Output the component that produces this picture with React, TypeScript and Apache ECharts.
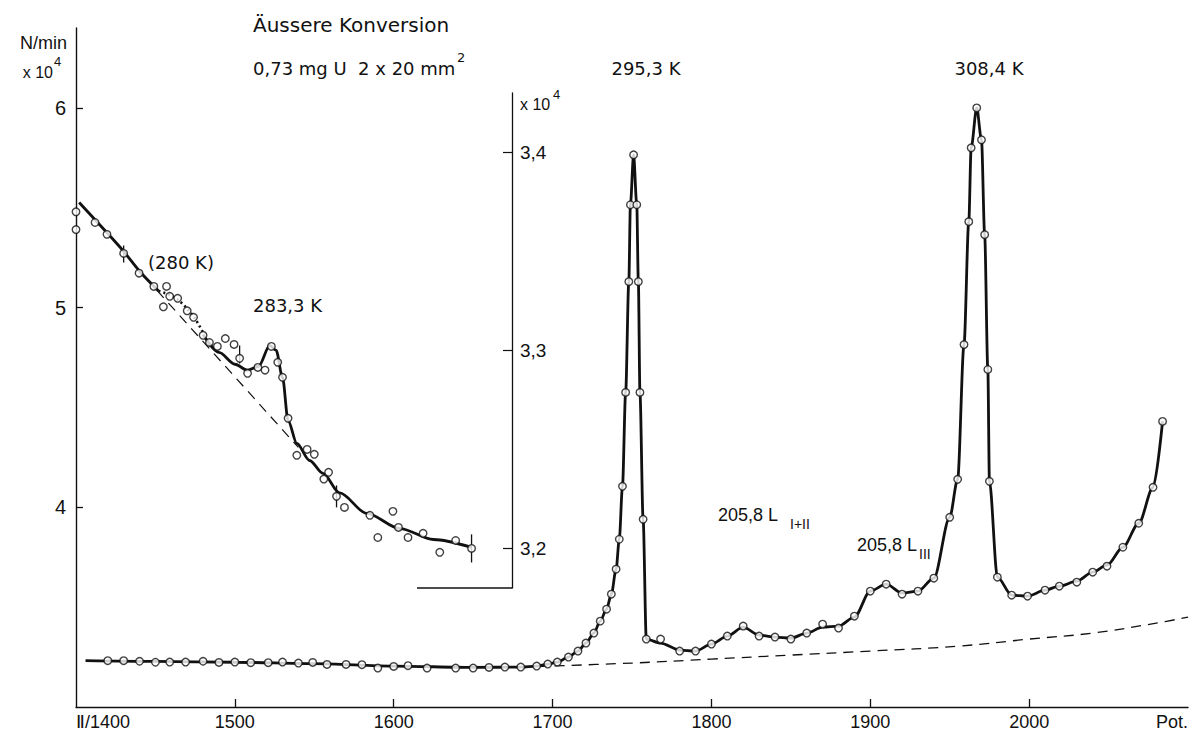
import React, { useEffect, useRef } from "react";
import * as echarts from "echarts";

// ---------- data (x: Pot., y: N/min x 10^4) ----------
// measured points (circles) of the main spectrum
const mainX = [1420, 1430, 1440, 1450, 1459, 1469, 1480, 1490, 1500, 1510, 1521, 1530, 1540, 1549, 1558, 1570, 1580, 1590, 1600, 1609, 1621, 1639, 1650, 1660, 1670, 1680, 1690, 1697, 1703, 1710, 1716, 1721, 1726, 1730, 1734, 1737, 1740, 1742, 1744, 1746, 1748, 1749, 1751, 1753, 1754, 1755, 1757, 1759, 1768, 1780, 1790, 1800, 1810, 1820, 1830, 1840, 1850, 1860, 1870, 1880, 1890, 1900, 1910, 1920, 1930, 1940, 1950, 1955, 1959, 1962, 1963.5, 1967, 1970, 1972, 1974, 1975, 1980, 1989, 1999, 2010, 2019, 2030, 2040, 2049, 2059, 2069, 2078, 2084];
const mainY = [3.232, 3.232, 3.229, 3.224, 3.225, 3.225, 3.229, 3.223, 3.225, 3.222, 3.222, 3.225, 3.22, 3.223, 3.213, 3.213, 3.212, 3.195, 3.203, 3.207, 3.195, 3.195, 3.195, 3.198, 3.2, 3.2, 3.205, 3.215, 3.225, 3.25, 3.28, 3.32, 3.37, 3.43, 3.49, 3.565, 3.69, 3.84, 4.105, 4.575, 5.13, 5.515, 5.765, 5.515, 5.13, 4.575, 3.94, 3.34, 3.34, 3.28, 3.28, 3.315, 3.355, 3.405, 3.355, 3.35, 3.34, 3.37, 3.415, 3.395, 3.455, 3.58, 3.615, 3.565, 3.58, 3.645, 3.95, 4.14, 4.815, 5.43, 5.8, 6.0, 5.84, 5.365, 4.69, 4.13, 3.65, 3.56, 3.555, 3.585, 3.605, 3.625, 3.675, 3.705, 3.8, 3.92, 4.1, 4.43];
// drawn curve of the main spectrum
const fitX = [1406, 1450, 1500, 1550, 1600, 1650, 1680, 1690, 1697, 1703, 1710, 1716, 1721, 1726, 1730, 1734, 1737, 1740, 1742, 1744, 1746, 1748, 1749, 1751, 1753, 1754, 1755, 1757, 1759, 1768, 1780, 1790, 1800, 1810, 1820, 1830, 1840, 1850, 1860, 1870, 1880, 1890, 1900, 1910, 1920, 1930, 1940, 1950, 1955, 1959, 1962, 1963.5, 1967, 1970, 1972, 1974, 1975, 1980, 1989, 1999, 2010, 2019, 2030, 2040, 2049, 2059, 2069, 2078, 2084];
const fitY = [3.232, 3.228, 3.224, 3.217, 3.205, 3.198, 3.2, 3.205, 3.215, 3.225, 3.25, 3.28, 3.32, 3.37, 3.43, 3.49, 3.565, 3.69, 3.84, 4.105, 4.575, 5.13, 5.515, 5.765, 5.515, 5.13, 4.575, 3.94, 3.34, 3.32, 3.285, 3.28, 3.315, 3.355, 3.4, 3.36, 3.35, 3.345, 3.37, 3.4, 3.405, 3.45, 3.58, 3.615, 3.57, 3.58, 3.645, 3.95, 4.14, 4.815, 5.43, 5.8, 6.0, 5.84, 5.365, 4.69, 4.13, 3.65, 3.56, 3.555, 3.585, 3.605, 3.63, 3.675, 3.71, 3.8, 3.92, 4.1, 4.43];

const baseX = [1680, 1750, 1800, 1850, 1900, 1956, 2000, 2040, 2080, 2100];
const baseY = [3.2, 3.22, 3.24, 3.26, 3.28, 3.305, 3.34, 3.37, 3.42, 3.45];

// inset (right scale)
const insetX = [1400, 1400, 1412, 1419.5, 1430, 1439.7, 1449, 1455, 1457, 1459, 1464, 1470, 1474, 1480, 1484, 1489, 1494, 1499.5, 1503, 1508, 1514.5, 1519, 1523, 1527, 1530, 1533.5, 1539, 1545.5, 1550, 1556, 1559, 1564, 1569, 1585, 1590, 1599.5, 1603, 1609, 1618.5, 1629, 1639, 1649];
const insetY = [3.37, 3.361, 3.3646, 3.3586, 3.349, 3.339, 3.3323, 3.322, 3.3323, 3.3273, 3.3263, 3.32, 3.3167, 3.3076, 3.304, 3.302, 3.306, 3.303, 3.296, 3.2884, 3.2914, 3.29, 3.302, 3.294, 3.2864, 3.2657, 3.247, 3.25, 3.2475, 3.235, 3.2384, 3.2263, 3.2207, 3.2167, 3.2055, 3.2187, 3.2106, 3.2055, 3.2076, 3.198, 3.204, 3.2];

const fitAX = [1402, 1412, 1420, 1430, 1440, 1452];
const fitAY = [3.3747, 3.366, 3.359, 3.35, 3.34, 3.33];
const dotX = [1452, 1459, 1465, 1470, 1475, 1480];
const dotY = [3.33, 3.328, 3.325, 3.321, 3.316, 3.309];
const fitBX = [1480, 1490, 1500, 1508, 1515, 1522, 1526, 1530, 1533.5, 1539, 1547, 1555.5, 1566, 1583, 1604, 1625, 1649];
const fitBY = [3.308, 3.299, 3.293, 3.29, 3.292, 3.3025, 3.3, 3.2864, 3.2646, 3.253, 3.2444, 3.2379, 3.228, 3.2177, 3.21, 3.2045, 3.2005];
const dashX = [1451, 1540];
const dashY = [3.3303, 3.251];

const errX = [1430, 1503, 1564, 1649];
const errLo = [3.3444, 3.2934, 3.2207, 3.1929];
const errHi = [3.353, 3.3025, 3.2318, 3.2071];

const xTicks = [1500, 1600, 1700, 1800, 1900, 2000];
const mainYTicks = [4, 5, 6];
const insetYTicks = [3.2, 3.3, 3.4];

const INK = "#111111";
const FONT = "Liberation Sans, Arial, sans-serif";
const FONT2 = "DejaVu Sans, Liberation Sans, sans-serif";

const pairs = (xs: number[], ys: number[]) => xs.map((x, i) => [x, ys[i]]);

export default function App() {
  const ref = useRef<HTMLDivElement>(null);

  useEffect(() => {
    if (!ref.current) return;
    const chart = echarts.init(ref.current, null, { renderer: "svg" });

    const txt = (text: string, x: number, y: number, size = 18, align = "left", family = FONT) => ({
      type: "text",
      x,
      y,
      silent: true,
      style: {
        text,
        fill: INK,
        font: `${size}px ${family}`,
        textAlign: align,
        textVerticalAlign: "middle",
      },
    });

    const mainXMax = 2100;
    const insetXMax = 1400 + 436 / (1112 / 700);

    const option: any = {
      animation: false,
      backgroundColor: "#ffffff",
      grid: [
        { left: 76, top: 28, width: 1112, height: 680 },
        { left: 76, top: 93, width: 436, height: 495 },
      ],
      xAxis: [
        {
          gridIndex: 0,
          type: "value",
          min: 1400,
          max: mainXMax,
          interval: 100,
          axisLine: { show: true, onZero: false, lineStyle: { color: INK, width: 1.4 } },
          axisTick: { show: true, inside: true, length: 8, customValues: xTicks, lineStyle: { color: INK, width: 1.3 } },
          axisLabel: {
            color: INK,
            fontSize: 18,
            fontFamily: FONT,
            margin: 6,
            alignMinLabel: "left",
            alignMaxLabel: "right",
            formatter: (v: number) => (v === 1400 ? "Ⅱ/1400" : v === mainXMax ? "Pot." : String(v)),
          },
          splitLine: { show: false },
        },
        { gridIndex: 1, type: "value", min: 1400, max: insetXMax, show: false },
      ],
      yAxis: [
        {
          gridIndex: 0,
          type: "value",
          min: 3,
          max: 6.4,
          axisLine: { show: true, onZero: false, lineStyle: { color: INK, width: 1.4 } },
          axisTick: { show: true, inside: true, length: 7, customValues: mainYTicks, lineStyle: { color: INK, width: 1.3 } },
          axisLabel: { color: INK, fontSize: 20, fontFamily: FONT, margin: 10, customValues: mainYTicks },
          splitLine: { show: false },
        },
        {
          gridIndex: 1,
          type: "value",
          position: "right",
          min: 3.18,
          max: 3.43,
          axisLine: { show: true, onZero: false, lineStyle: { color: INK, width: 1.3 } },
          axisTick: { show: true, inside: true, length: 9, customValues: insetYTicks, lineStyle: { color: INK, width: 1.2 } },
          axisLabel: {
            color: INK,
            fontSize: 19,
            fontFamily: FONT,
            margin: 8,
            customValues: insetYTicks,
            formatter: (v: number) => v.toFixed(1).replace(".", ","),
          },
          splitLine: { show: false },
        },
      ],
      series: [
        {
          type: "line",
          xAxisIndex: 0,
          yAxisIndex: 0,
          data: pairs(fitX, fitY),
          smooth: 0.3,
          smoothMonotone: "x",
          showSymbol: false,
          lineStyle: { color: INK, width: 2.8 },
          z: 2,
        },
        {
          type: "line",
          xAxisIndex: 0,
          yAxisIndex: 0,
          data: pairs(baseX, baseY),
          smooth: 0.4,
          showSymbol: false,
          lineStyle: { color: INK, width: 1.3, type: [10, 7] },
          z: 1,
        },
        {
          type: "scatter",
          xAxisIndex: 0,
          yAxisIndex: 0,
          data: pairs(mainX, mainY),
          symbol: "circle",
          symbolSize: 7.5,
          itemStyle: { color: "#ffffff", borderColor: INK, borderWidth: 1.4 },
          z: 5,
        },
        {
          type: "line",
          xAxisIndex: 1,
          yAxisIndex: 1,
          data: pairs(fitAX, fitAY),
          smooth: 0.3,
          showSymbol: false,
          lineStyle: { color: INK, width: 2.8 },
        },
        {
          type: "line",
          xAxisIndex: 1,
          yAxisIndex: 1,
          data: pairs(dotX, dotY),
          smooth: 0.3,
          showSymbol: false,
          lineStyle: { color: INK, width: 2.6, type: [2, 3] },
        },
        {
          type: "line",
          xAxisIndex: 1,
          yAxisIndex: 1,
          data: pairs(fitBX, fitBY),
          smooth: 0.3,
          smoothMonotone: "x",
          showSymbol: false,
          lineStyle: { color: INK, width: 2.8 },
        },
        {
          type: "line",
          xAxisIndex: 1,
          yAxisIndex: 1,
          data: pairs(dashX, dashY),
          showSymbol: false,
          lineStyle: { color: INK, width: 1.2, type: [10, 7] },
        },
        {
          type: "custom",
          coordinateSystem: "cartesian2d",
          xAxisIndex: 1,
          yAxisIndex: 1,
          encode: { x: 0, y: [1, 2] },
          data: errX.map((x, i) => [x, errLo[i], errHi[i]]),
          renderItem: (_p: any, api: any) => {
            const x = api.value(0);
            const a = api.coord([x, api.value(1)]);
            const b = api.coord([x, api.value(2)]);
            return {
              type: "line",
              shape: { x1: a[0], y1: a[1], x2: b[0], y2: b[1] },
              style: { stroke: INK, lineWidth: 1.3 },
            };
          },
          z: 4,
        },
        {
          type: "scatter",
          xAxisIndex: 1,
          yAxisIndex: 1,
          data: pairs(insetX, insetY),
          symbol: "circle",
          symbolSize: 7.5,
          itemStyle: { color: "#ffffff", borderColor: INK, borderWidth: 1.4 },
          z: 5,
        },
      ],
      graphic: [
        { type: "line", silent: true, shape: { x1: 417, y1: 588, x2: 512, y2: 588 }, style: { stroke: INK, lineWidth: 1.3 } },
        txt("N/min", 67, 43, 18, "right"),
        txt("x 10", 53, 72, 16, "right"),
        txt("4", 54, 61, 13),
        txt("Äussere Konversion", 253, 25, 20, "left", FONT2),
        txt("0,73 mg U  2 x 20 mm", 253, 68, 18, "left", FONT2),
        txt("2", 457, 57, 13, "left", FONT2),
        txt("x 10", 520, 104, 16),
        txt("4", 553, 94, 13),
        txt("295,3 K", 646, 68, 18, "center", FONT2),
        txt("308,4 K", 989, 68, 18, "center", FONT2),
        txt("(280 K)", 148, 262, 18, "left", FONT2),
        txt("283,3 K", 253, 305, 18, "left", FONT2),
        txt("205,8 L", 718, 515, 18),
        txt("I+II", 790, 524, 14),
        txt("205,8 L", 857, 545, 18),
        txt("III", 919, 554, 14),
      ],
    };

    chart.setOption(option);
    return () => chart.dispose();
  }, []);

  return (
    <div
      ref={ref}
      style={{ position: "fixed", left: 0, top: 0, width: 1192, height: 731 }}
    />
  );
}
